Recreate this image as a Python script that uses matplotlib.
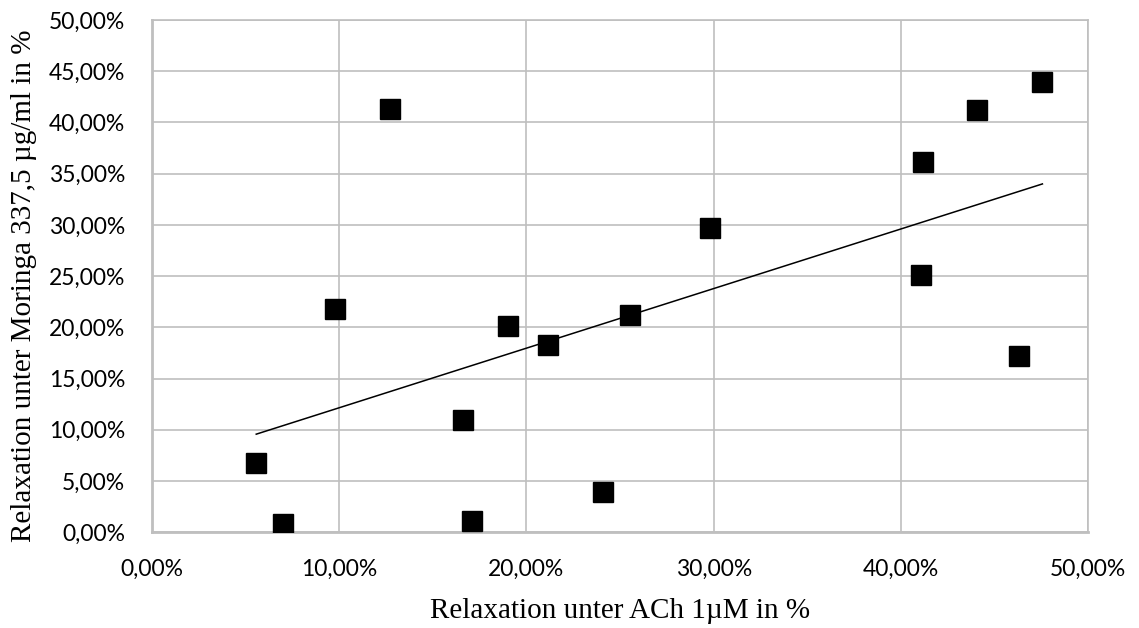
import numpy as np
import matplotlib.pyplot as plt
from matplotlib.ticker import FuncFormatter

# Relaxation values in percent
ach = [5.58, 7.03, 9.80, 12.70, 19.00, 21.17, 16.64, 17.12, 24.11, 25.55,
       29.82, 47.55, 44.08, 41.20, 41.09, 46.32]
moringa = [6.73, 0.78, 21.76, 41.28, 20.10, 18.25, 10.93, 1.07, 3.90, 21.18,
           29.67, 43.92, 41.19, 36.11, 25.08, 17.18]

x_ticks = [0, 10, 20, 30, 40, 50]
y_ticks = [0, 5, 10, 15, 20, 25, 30, 35, 40, 45, 50]

x = np.array(ach)
y = np.array(moringa)

fig = plt.figure(figsize=(11.39, 6.28), dpi=100)
ax = fig.add_axes([0.1332, 0.1524, 0.8223, 0.8158])

ax.plot(x, y, 's', color='black', markersize=13.7, zorder=3)

# linear trend line over the data range
k, d = np.polyfit(x, y, 1)
xt = np.array([x.min(), x.max()])
ax.plot(xt, k * xt + d, color='black', linewidth=1.1, zorder=2)

ax.set_xlim(0, 50)
ax.set_ylim(0, 50)
ax.set_xticks(x_ticks)
ax.set_yticks(y_ticks)
fmt = FuncFormatter(lambda v, p: ('%.2f%%' % v).replace('.', ','))
ax.xaxis.set_major_formatter(fmt)
ax.yaxis.set_major_formatter(fmt)

ax.grid(True, color='#bfbfbf', linewidth=1.2)
ax.set_axisbelow(True)
for side in ['top', 'right']:
    ax.spines[side].set_color('#bfbfbf')
    ax.spines[side].set_linewidth(1.2)
for side in ['left', 'bottom']:
    ax.spines[side].set_color('#bfbfbf')
    ax.spines[side].set_linewidth(2.0)

ax.tick_params(length=0, labelsize=16.5, labelcolor='#000000')
ax.tick_params(axis='x', pad=19)
ax.tick_params(axis='y', pad=19)
for lab in ax.get_xticklabels() + ax.get_yticklabels():
    lab.set_family('Lato')

fig.text(0.5444, 0.016, 'Relaxation unter ACh 1\u00b5M in %', ha='center', va='baseline',
         family='Liberation Serif', fontsize=21)
fig.text(0.021, 0.545, 'Relaxation unter Moringa 337,5 \u00b5g/ml in %', ha='center', va='center',
         rotation=90, family='Liberation Serif', fontsize=21)

fig.savefig('out.png', dpi=100)
